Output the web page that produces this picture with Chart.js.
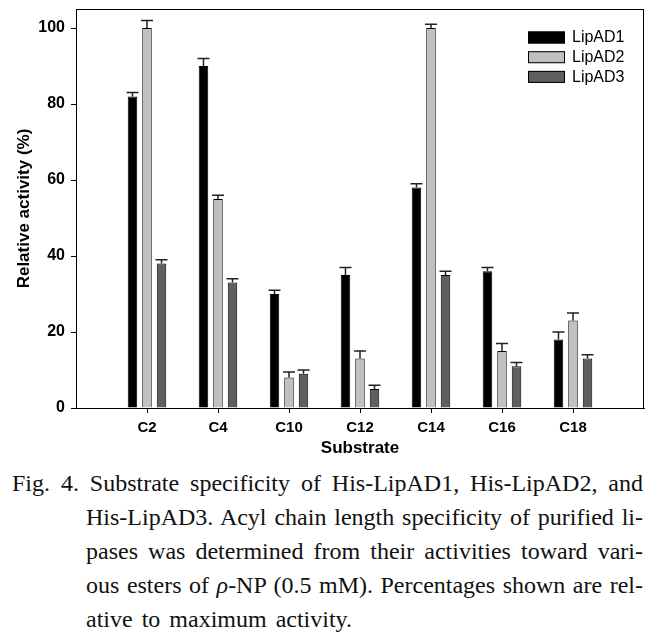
<!DOCTYPE html>
<html>
<head>
<meta charset="utf-8">
<script src="https://cdn.jsdelivr.net/npm/chart.js@4"></script>
<style>
  body { margin: 0; background: #fff; }
  #wrap { width: 664px; height: 466px; position: relative; }
  #caption {
    font-family: "Liberation Serif", "DejaVu Serif", serif;
    font-size: 24px;
    line-height: 34px;
    color: #111;
    width: 664px;
  }
  #caption .ln { white-space: nowrap; text-align: justify; text-align-last: justify; }
  #caption .first { padding-left: 12px; width: 631px; }
  #caption .rest { padding-left: 86px; width: 557px; }
  #caption .last { text-align-last: left; word-spacing: 3px; }
</style>
</head>
<body>
<div id="wrap"><canvas id="chart"></canvas></div>
<div id="caption">
  <div class="ln first">Fig. 4. Substrate specificity of His-LipAD1, His-LipAD2, and</div>
  <div class="ln rest">His-LipAD3. Acyl chain length specificity of purified li-</div>
  <div class="ln rest">pases was determined from their activities toward vari-</div>
  <div class="ln rest">ous esters of <i>ρ</i>-NP (0.5 mM). Percentages shown are rel-</div>
  <div class="ln rest last">ative to maximum activity.</div>
</div>
<script>
// substrates (empty slots at both ends keep the axis padding)
const substrates = ["", "C2", "C4", "C10", "C12", "C14", "C16", "C18", ""];

// relative activity (%)
const lipAD1 = [null, 82, 90, 30, 35, 58, 36, 18, null];
const lipAD2 = [null, 100, 55, 8, 13, 100, 15, 23, null];
const lipAD3 = [null, 38, 33, 9, 5, 35, 11, 13, null];

// upper error (same units)
const lipAD1Err = [null, 1, 2, 1, 2, 1, 1, 2, null];
const lipAD2Err = [null, 2, 1, 1.5, 2, 1, 2, 2, null];
const lipAD3Err = [null, 1, 1, 1, 1, 1, 1, 1, null];

const yTicks = [0, 20, 40, 60, 80, 100];

const errors = [lipAD1Err, lipAD2Err, lipAD3Err];

// upward-only error bars with a cap
const errorBars = {
  id: "errorBars",
  afterDatasetsDraw(chart) {
    const ctx = chart.ctx;
    const y = chart.scales.y;
    ctx.save();
    ctx.strokeStyle = "#222";
    ctx.lineWidth = 1.5;
    chart.data.datasets.forEach((ds, di) => {
      const meta = chart.getDatasetMeta(di);
      meta.data.forEach((bar, i) => {
        const v = ds.data[i];
        const e = errors[di][i];
        if (v == null || e == null) return;
        const top = y.getPixelForValue(v + e);
        ctx.beginPath();
        ctx.moveTo(bar.x, bar.y);
        ctx.lineTo(bar.x, top);
        ctx.moveTo(bar.x - 6, top);
        ctx.lineTo(bar.x + 6, top);
        ctx.stroke();
      });
    });
    ctx.restore();
  }
};

// box around the plot + legend inside the top right corner
const frameAndLegend = {
  id: "frameAndLegend",
  afterDraw(chart) {
    const ctx = chart.ctx;
    const a = chart.chartArea;
    ctx.save();
    ctx.strokeStyle = "#000";
    ctx.lineWidth = 1;
    ctx.strokeRect(a.left + 0.5, a.top + 0.5, a.right - a.left - 1, a.bottom - a.top);

    const bx = a.right - 116;
    chart.data.datasets.forEach((ds, i) => {
      const by = a.top + 22.5 + i * 19.7;
      ctx.fillStyle = ds.backgroundColor;
      ctx.fillRect(bx, by, 37, 12);
      ctx.strokeStyle = "#000";
      ctx.strokeRect(bx + 0.5, by + 0.5, 36, 11);
      ctx.fillStyle = "#000";
      ctx.font = "16px Arial, 'Liberation Sans', sans-serif";
      ctx.textBaseline = "middle";
      ctx.fillText(ds.label, bx + 44, by + 6.5);
    });
    ctx.restore();
  }
};

const ctx = document.getElementById("chart");
new Chart(ctx, {
  type: "bar",
  data: {
    labels: substrates,
    datasets: [
      { label: "LipAD1", data: lipAD1, backgroundColor: "#000000" },
      { label: "LipAD2", data: lipAD2, backgroundColor: "#c0c0c0" },
      { label: "LipAD3", data: lipAD3, backgroundColor: "#5f5f5f" }
    ]
  },
  options: {
    responsive: true,
    maintainAspectRatio: false,
    animation: false,
    devicePixelRatio: 1,
    layout: { padding: { left: 0, right: 20, top: 9, bottom: 0 } },
    datasets: {
      bar: {
        borderColor: "#000",
        borderWidth: 1,
        categoryPercentage: 0.613,
        barPercentage: 0.655
      }
    },
    plugins: {
      legend: { display: false },
      tooltip: { enabled: false }
    },
    scales: {
      x: {
        offset: false,
        afterFit: s => { s.height = 58; s.paddingLeft = 0; s.paddingRight = 0; },
        grid: {
          offset: false,
          drawOnChartArea: false,
          tickLength: 5,
          tickColor: c => (c.index === 0 || c.index === substrates.length - 1) ? "rgba(0,0,0,0)" : "#000"
        },
        border: { color: "#000", width: 1 },
        ticks: {
          color: "#000",
          padding: 6,
          maxRotation: 0,
          autoSkip: false,
          font: { family: "Arial, 'Liberation Sans', sans-serif", size: 15, weight: "bold" }
        },
        title: {
          display: true,
          text: "Substrate",
          color: "#000",
          padding: { top: 0, bottom: 7 },
          font: { family: "Arial, 'Liberation Sans', sans-serif", size: 17, weight: "bold" }
        }
      },
      y: {
        min: 0,
        max: 105,
        afterFit: s => { s.width = 76; s.paddingTop = 0; s.paddingBottom = 0; },
        afterBuildTicks: s => { s.ticks = yTicks.map(v => ({ value: v })); },
        grid: { drawOnChartArea: false, tickLength: 5, tickColor: "#000" },
        border: { color: "#000", width: 1 },
        ticks: {
          color: "#000",
          padding: 6,
          font: { family: "Arial, 'Liberation Sans', sans-serif", size: 16, weight: "bold" }
        },
        title: {
          display: true,
          text: "Relative activity (%)",
          color: "#000",
          padding: { top: 14, bottom: 0 },
          font: { family: "Arial, 'Liberation Sans', sans-serif", size: 17, weight: "bold" }
        }
      }
    }
  },
  plugins: [errorBars, frameAndLegend]
});
</script>
</body>
</html>
